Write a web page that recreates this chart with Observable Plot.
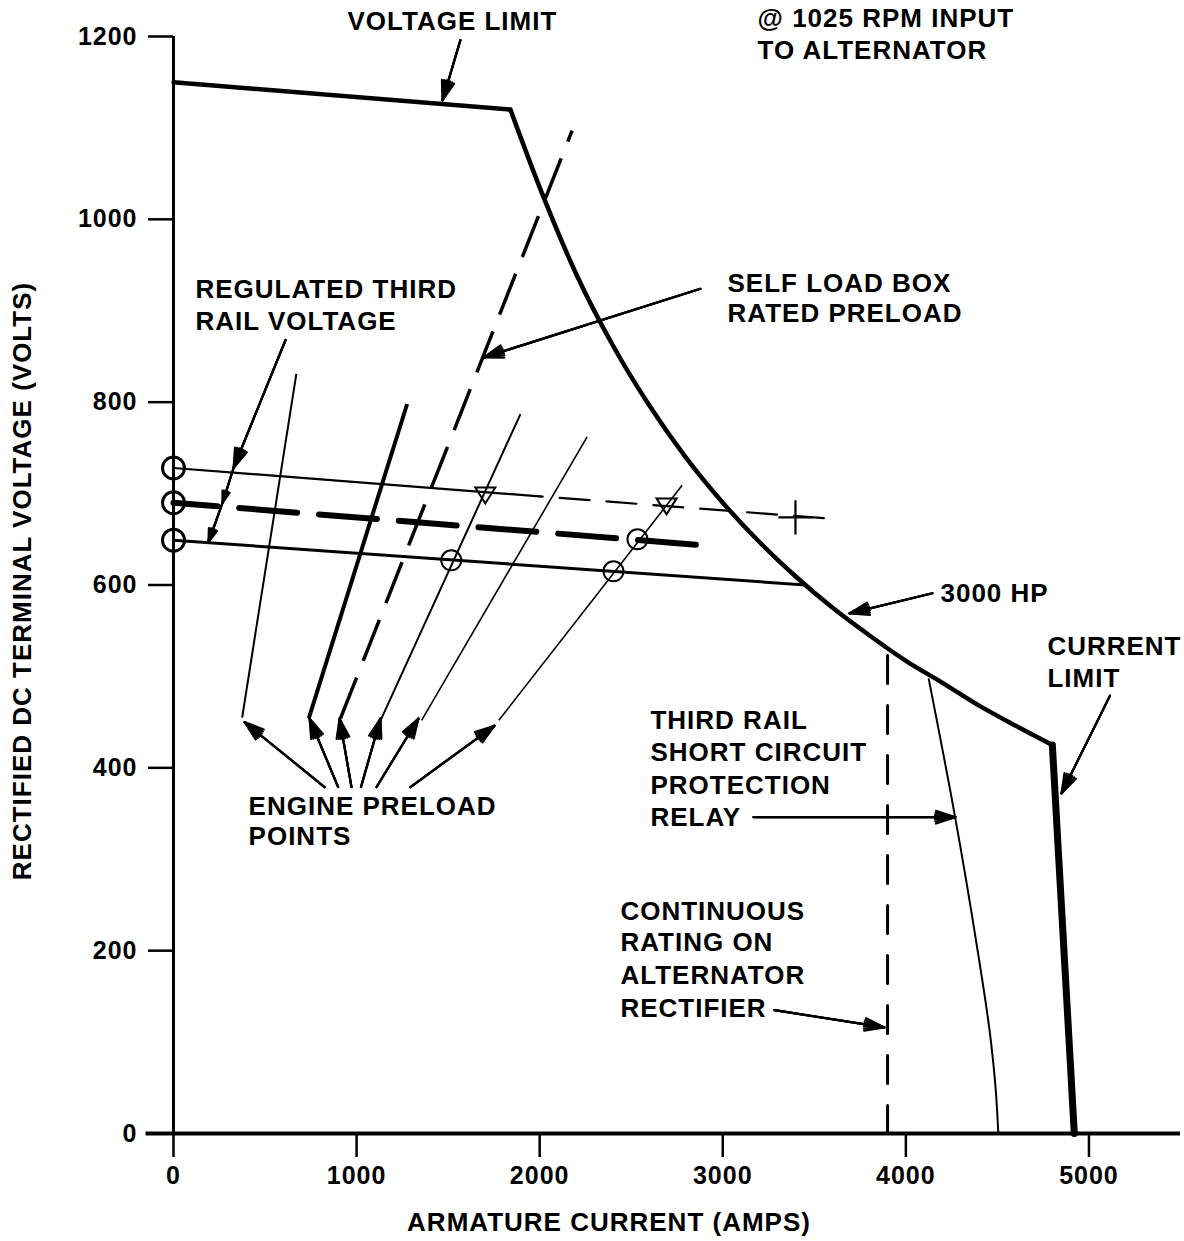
<!DOCTYPE html>
<html><head><meta charset="utf-8">
<script src="https://cdn.jsdelivr.net/npm/d3@7"></script>
<script src="https://cdn.jsdelivr.net/npm/@observablehq/plot@0.6"></script>
<style>
html,body{margin:0;padding:0;background:#fff;}
#chart{width:1184px;height:1241px;}
</style></head><body><div id="chart"></div>
<script>
// ---- axis ticks ----
const xTicks = [0, 1000, 2000, 3000, 4000, 5000];
const yTicks = [0, 200, 400, 600, 800, 1000, 1200];

// ---- envelope: voltage limit, 3000 HP curve, current limit ----
const voltLimitI = [0, 1840];
const voltLimitV = [1150, 1120];
const hpCurveI = [1840, 2000, 2200, 2400, 2600, 2800, 3000, 3200, 3400, 3600, 3800, 4000, 4200, 4400, 4600, 4800];
const hpCurveV = [1120, 1035, 940, 862, 796, 739, 690, 647, 609, 575, 545, 517, 493, 468, 446, 425];
const currentLimitI = [4800, 4920];
const currentLimitV = [425, 0];

// ---- third rail short circuit protection relay ----
const relayI = [4125, 4270, 4380, 4465, 4490, 4505];
const relayV = [497, 345, 215, 100, 50, 0];

// ---- continuous rating on alternator rectifier ----
const ratingI = [3900, 3900];
const ratingV = [0, 525];

// ---- regulated third rail voltage lines ----
const topSolidI = [0, 2000];
const topSolidV = [728, 697];
const topDashI = [2000, 3560];
const topDashV = [697, 673];
const midDashI = [0, 2922];
const midDashV = [690, 643];
const bottomI = [0, 3450];
const bottomV = [649, 600];

// ---- markers ----
const axisCircleI = [0, 0, 0];
const axisCircleV = [728, 690, 649];
const circleI = [1517, 2403, 2534];
const circleV = [627, 615, 650];
const triI = [1703, 2693];
const triV = [698, 686];
const plusI = [3397];
const plusV = [674];

// ---- engine preload lines (bottom end -> top end) ----
const preloadI1 = [375, 739, 912, 1131, 1355, 1777];
const preloadV1 = [455, 454, 454, 452, 452, 452];
const preloadI2 = [671, 1276, 2177, 1895, 2259, 2778];
const preloadV2 = [831, 798, 1097, 787, 762, 709];

// ---- annotation arrows (from -> tip) ----
const arrowI1 = [1567, 2878, 612, 328, 268, 825, 899, 972, 1024, 1109, 1294, 4145, 5115, 3168, 3282];
const arrowV1 = [1196, 924, 868, 728, 690, 379, 379, 379, 379, 379, 379, 591, 479, 346, 135];
const arrowI2 = [1469, 1695, 328, 268, 191, 388, 743, 907, 1131, 1338, 1753, 3692, 4850, 4271, 3883];
const arrowV2 = [1130, 849, 728, 690, 647, 450, 454, 454, 454, 454, 446, 569, 372, 346, 116];

// ---- annotation texts ----
const labelText = ["VOLTAGE LIMIT", "@ 1025 RPM INPUT", "TO ALTERNATOR", "SELF LOAD BOX", "RATED PRELOAD",
  "REGULATED THIRD", "RAIL VOLTAGE", "ENGINE PRELOAD", "POINTS", "3000 HP", "CURRENT", "LIMIT",
  "THIRD RAIL", "SHORT CIRCUIT", "PROTECTION", "RELAY", "CONTINUOUS", "RATING ON", "ALTERNATOR", "RECTIFIER"];
const labelI = [950, 3190, 3190, 3026, 3026, 120, 120, 410, 410, 4189, 4773, 4773,
  2605, 2605, 2605, 2605, 2441, 2441, 2441, 2441];
const labelV = [1216, 1219, 1184, 930, 897, 923, 888, 358, 325, 591, 533, 498,
  452, 417, 381, 346, 243, 209, 173, 137];

const xLabel = "ARMATURE CURRENT (AMPS)";
const yLabel = "RECTIFIED DC TERMINAL VOLTAGE (VOLTS)";

// ---- helpers ----
const pts = (xs, ys) => xs.map((x, i) => ({x, y: ys[i]}));
const segs = (x1, y1, x2, y2) => x1.map((_, i) => ({x1: x1[i], y1: y1[i], x2: x2[i], y2: y2[i], i}));
const preload = segs(preloadI1, preloadV1, preloadI2, preloadV2);
const arrows = segs(arrowI1, arrowV1, arrowI2, arrowV2);
const preloadWidth = [2, 4, 3.5, 2, 1.6, 1.6];
const preloadDash = [null, null, "44,18", null, null, null];

const triDown = {draw(ctx, size) {
  const r = Math.sqrt(size / Math.PI), h = r * 0.8;
  ctx.moveTo(-r, -h); ctx.lineTo(r, -h); ctx.lineTo(0, h); ctx.closePath();
}};

const K = {stroke: "black", fill: "none"};
const marks = [
  // axis lines
  Plot.ruleY([0], {x1: -150, x2: 5500, stroke: "black", strokeWidth: 4}),
  Plot.ruleX([0], {y1: 0, y2: 1200, stroke: "black", strokeWidth: 3}),
  Plot.axisX(xTicks, {tickSize: 24, tickPadding: 9, strokeWidth: 2.5, fontSize: 25, tickFormat: d => String(d), label: null}),
  Plot.axisY(yTicks, {tickSize: 25, tickPadding: 11, strokeWidth: 2.5, fontSize: 25, tickFormat: d => String(d), label: null}),
  // envelope
  Plot.line(pts(voltLimitI, voltLimitV), {x: "x", y: "y", ...K, strokeWidth: 4.5}),
  Plot.line(pts(hpCurveI, hpCurveV), {x: "x", y: "y", ...K, strokeWidth: 4.5, curve: "monotone-x"}),
  Plot.line(pts(currentLimitI, currentLimitV), {x: "x", y: "y", ...K, strokeWidth: 7}),
  Plot.line(pts(relayI, relayV), {x: "x", y: "y", ...K, strokeWidth: 2, curve: "monotone-y"}),
  Plot.line(pts(ratingI, ratingV), {x: "x", y: "y", ...K, strokeWidth: 3, strokeDasharray: "28,22"}),
  // regulated voltage lines
  Plot.line(pts(topSolidI, topSolidV), {x: "x", y: "y", ...K, strokeWidth: 2.2}),
  Plot.line(pts(topDashI, topDashV), {x: "x", y: "y", ...K, strokeWidth: 2.2, strokeDasharray: "30,17", strokeDashoffset: -20}),
  Plot.line(pts(midDashI, midDashV), {x: "x", y: "y", ...K, strokeWidth: 6, strokeDasharray: "58,22", strokeDashoffset: 14}),
  Plot.line(pts(bottomI, bottomV), {x: "x", y: "y", ...K, strokeWidth: 3}),
  // preload lines
  ...preload.map((s, k) => Plot.link([s], {x1: "x1", y1: "y1", x2: "x2", y2: "y2", stroke: "black",
    strokeWidth: preloadWidth[k], strokeDasharray: preloadDash[k] || undefined})),
  // markers
  Plot.dot(pts(axisCircleI, axisCircleV), {x: "x", y: "y", r: 11, ...K, strokeWidth: 3}),
  Plot.dot(pts(circleI, circleV), {x: "x", y: "y", r: 10, ...K, strokeWidth: 2}),
  Plot.dot(pts(triI, triV), {x: "x", y: "y", r: 10, symbol: triDown, ...K, strokeWidth: 2}),
  Plot.dot(pts(plusI, plusV), {x: "x", y: "y", r: 11, symbol: "plus", ...K, strokeWidth: 2.2}),
  // annotation arrows (layered heads to look filled)
  ...[36, 24, 12].map(a => Plot.arrow(arrows, {x1: "x1", y1: "y1", x2: "x2", y2: "y2",
    stroke: "black", strokeWidth: 2.2, headLength: 14, headAngle: a})),
  // annotation texts
  Plot.text(labelText.map((t, i) => ({t, x: labelI[i], y: labelV[i]})), {x: "x", y: "y", text: "t",
    textAnchor: "start", lineAnchor: "middle", fontSize: 26, fill: "black"}),
  // axis labels
  Plot.text([xLabel], {frameAnchor: "bottom", dx: -68, dy: 89, textAnchor: "middle", lineAnchor: "middle", fontSize: 26, fill: "black"}),
  Plot.text([yLabel], {frameAnchor: "left", dx: -151, dy: -4, rotate: -90, textAnchor: "middle", lineAnchor: "middle",
    fontSize: 26, letterSpacing: "1.7px", fill: "black"})
];

const chart = Plot.plot({
  width: 1184, height: 1241,
  marginLeft: 173, marginRight: 4, marginTop: 36, marginBottom: 108,
  x: {domain: [0, 5500]},
  y: {domain: [0, 1200]},
  style: {fontFamily: "'Liberation Sans', Arial, Helvetica, sans-serif", fontWeight: "bold",
    letterSpacing: "1px", color: "black", background: "white", overflow: "visible"},
  marks
});
document.getElementById("chart").appendChild(chart);
</script>
</body></html>
